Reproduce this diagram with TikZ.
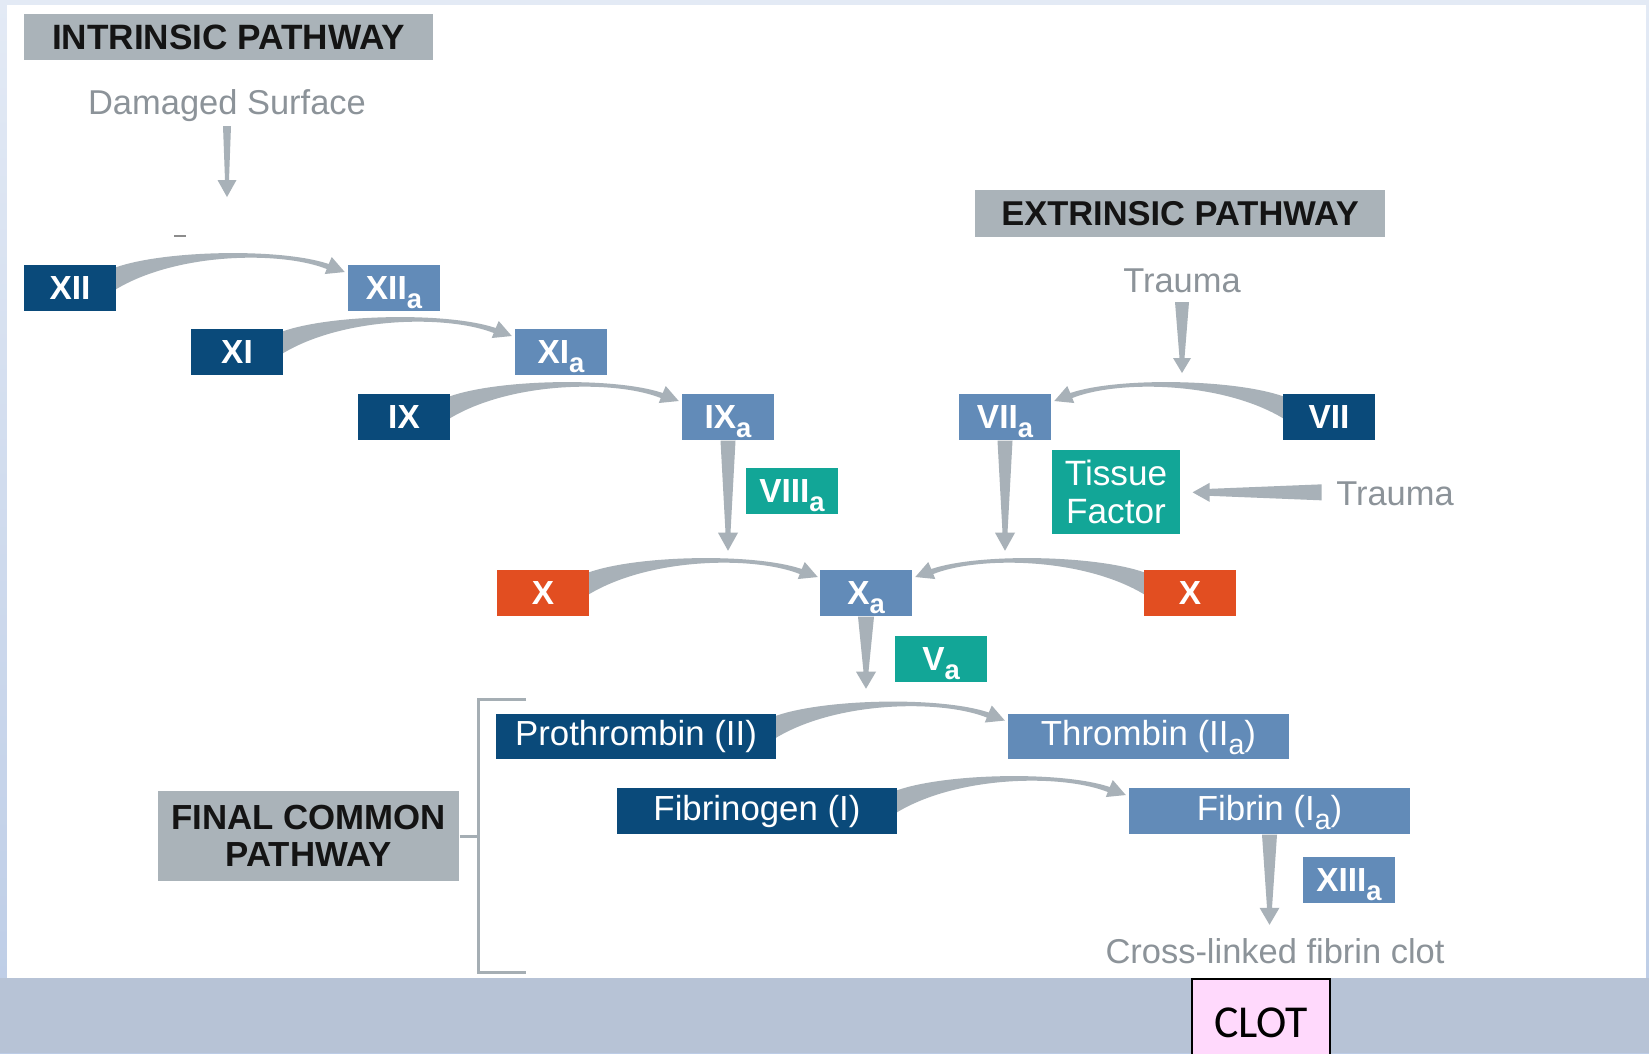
\documentclass[tikz,border=0pt]{standalone}
\usepackage{fontspec}
\setmainfont{Liberation Sans}
\newfontfamily\clotfont{Carlito}
\usepackage{graphicx}
\usetikzlibrary{calc}

\definecolor{darkblue}{HTML}{0A4A7A}
\definecolor{lightblue}{HTML}{628BB8}
\definecolor{tealbox}{HTML}{12A697}
\definecolor{orangebox}{HTML}{E24E21}
\definecolor{headgray}{HTML}{AAB3B9}
\definecolor{arrowgray}{HTML}{A8B1B8}
\definecolor{labelgray}{HTML}{8C9399}
\definecolor{bracketgray}{HTML}{A5AEB4}
\definecolor{bandblue}{HTML}{B7C3D6}
\definecolor{frametop}{HTML}{E3EAF5}
\definecolor{framebottom}{HTML}{BCCCE6}
\definecolor{clotpink}{HTML}{FFD9FC}

% lowered subscript "a" for activated factors (no effect on box centring)
\newcommand\subA{\raisebox{-0.26em}[0pt][0pt]{\scalebox{0.82}{a}}}

% straight tapered arrow: start, rotation, length, start width, end width, head half-width, head length
\newcommand\taper[7]{%
  \fill[arrowgray, shift={(#1)}, rotate=#2]
    (0,#4/2) -- (#3-#7,#5/2) -- (#3-#7,#6) -- (#3,0) -- (#3-#7,-#6)
    -- (#3-#7,-#5/2) -- (0,-#4/2) -- cycle;}

\pgfdeclarelayer{back}
\pgfdeclarelayer{bg}
\pgfsetlayers{back,bg,main}

\tikzset{
  fbox/.style={inner sep=0pt, minimum width=0.92cm, minimum height=0.46cm,
    text=white, font=\fontsize{9.5}{10}\selectfont\bfseries},
  darkf/.style={fbox, fill=darkblue},
  lightf/.style={fbox, fill=lightblue},
  tealf/.style={fbox, fill=tealbox},
  orangef/.style={fbox, fill=orangebox},
  widebox/.style={inner sep=0pt, minimum width=2.80cm, minimum height=0.45cm,
    text=white, font=\fontsize{9.9}{10}\selectfont},
  header/.style={fill=headgray, inner sep=0pt, text=black!92, align=center,
    font=\fontsize{9.8}{10.5}\selectfont\bfseries},
  glabel/.style={text=labelgray, font=\fontsize{9.8}{10}\selectfont,
    anchor=base, inner sep=0pt},
  % curved tapered arrow, drawn from the east side of a box towards the right
  arcarrow/.pic={
    \fill[arrowgray] (0,-21) .. controls (50,-38) and (165,-40) .. (212,-24)
      -- (215,-31) -- (228,-16) -- (208,-14) -- (210,-19)
      .. controls (165,-37) and (60,-36) .. (-2,2) -- (-2,-21) -- cycle;
  }
}

\begin{document}
\begin{tikzpicture}[x=0.01cm, y=-0.01cm]
\useasboundingbox (0,0) rectangle (1649,1053);
\clip (0,0) rectangle (1649,1053);

% slide frame, white panel and bottom band
\begin{pgfonlayer}{back}
  \fill[top color=frametop, bottom color=framebottom] (0,0) rectangle (1649,1053);
  \fill[white] (7,5) rectangle (1646,978);
  \fill[bandblue] (0,978) rectangle (1649,1053);
  \draw[black!45, line width=0.4pt] (174,236) -- (186,236);
\end{pgfonlayer}

% pathway headers
\node[header, minimum width=4.09cm, minimum height=0.46cm,
  font=\fontsize{10}{10.5}\selectfont\bfseries] (intr) at (228.5,37) {INTRINSIC PATHWAY};
\node[header, minimum width=4.10cm, minimum height=0.47cm] (extr) at (1180,213.5) {EXTRINSIC PATHWAY};
\node[header, minimum width=3.01cm, minimum height=0.90cm,
  font=\fontsize{9.9}{10.5}\selectfont\bfseries] (fcp) at (308.5,836) {FINAL COMMON\\PATHWAY};

% grey captions
\node[glabel] (dmg) at (227,114) {Damaged Surface};
\node[glabel] (tr1) at (1182,292) {Trauma};
\node[glabel] (tr2) at (1395,505) {Trauma};
\node[glabel] (clotlbl) at (1275,963) {Cross-linked fibrin clot};

% intrinsic cascade
\node[darkf]  (XII)  at (70,288)  {XII};
\node[lightf] (XIIa) at (394,288) {XII\subA};
\node[darkf]  (XI)   at (237,352) {XI};
\node[lightf] (XIa)  at (561,352) {XI\subA};
\node[darkf]  (IX)   at (404,417) {IX};
\node[lightf] (IXa)  at (728,417) {IX\subA};
\node[tealf]  (VIIIa) at (792,491) {VIII\subA};

% extrinsic cascade
\node[lightf] (VIIa) at (1005,417) {VII\subA};
\node[darkf]  (VII)  at (1329,417) {VII};
\node[tealf, minimum width=1.28cm, minimum height=0.84cm, align=center,
  font=\fontsize{10}{10.8}\selectfont] (TF) at (1116,492) {Tissue\\Factor};

% factor X activation
\node[orangef] (XL) at (543,593)  {X};
\node[lightf]  (Xa) at (866,593)  {X\subA};
\node[orangef] (XR) at (1190,593) {X};
\node[tealf]   (Va) at (941,659)  {V\subA};

% final common pathway
\node[widebox, fill=darkblue]  (PT) at (636,736.5)    {Prothrombin (II)};
\node[widebox, fill=lightblue] (TH) at (1148.5,736.5) {Thrombin (II\subA)};
\node[widebox, fill=darkblue, minimum height=0.46cm]  (FG) at (757,811)    {Fibrinogen (I)};
\node[widebox, fill=lightblue, minimum height=0.46cm] (FB) at (1269.5,811) {Fibrin (I\subA)};
\node[lightf] (XIIIa) at (1349,880) {XIII\subA};

% bracket joining the final common pathway header
\draw[bracketgray, line width=0.85pt] (526,699) -- (478,699) -- (478,972) -- (526,972);
\draw[bracketgray, line width=0.85pt] (fcp.east) -- ++(19,0);

% clot tag on the band
\node[draw=black, line width=0.6pt, fill=clotpink, minimum width=1.38cm,
  minimum height=0.88cm, inner sep=0pt, anchor=north,
  font=\clotfont\fontsize{13}{13}\selectfont] (clot) at (1261,978) {CLOT};

% connectors
\begin{pgfonlayer}{bg}
  \taper{$(dmg.base)+(0,12)$}{-90}{71}{8}{4}{9.5}{17}
  \taper{$(tr1.base)+(0,10)$}{-90}{71}{14}{5}{9}{15}
  \taper{IXa.south}{-90}{110}{15}{5}{10}{18}
  \taper{VIIa.south}{-90}{110}{15}{5}{10}{18}
  \taper{Xa.south}{-90}{72}{16}{5}{10}{17}
  \taper{FB.south}{-90}{90}{15}{5}{10}{17}
  \taper{$(tr2.west)+(-14,-1)$}{180}{129}{16}{7}{9.5}{17}

  \pic at (XII.east) {arcarrow};
  \pic at (XI.east) {arcarrow};
  \pic at (IX.east) {arcarrow};
  \pic at (XL.east) {arcarrow};
  \pic at (PT.east) {arcarrow};
  \pic at (FG.east) {arcarrow};
  \pic[xscale=-1] at (VII.west) {arcarrow};
  \pic[xscale=-1] at (XR.west) {arcarrow};
\end{pgfonlayer}
\end{tikzpicture}
\end{document}
